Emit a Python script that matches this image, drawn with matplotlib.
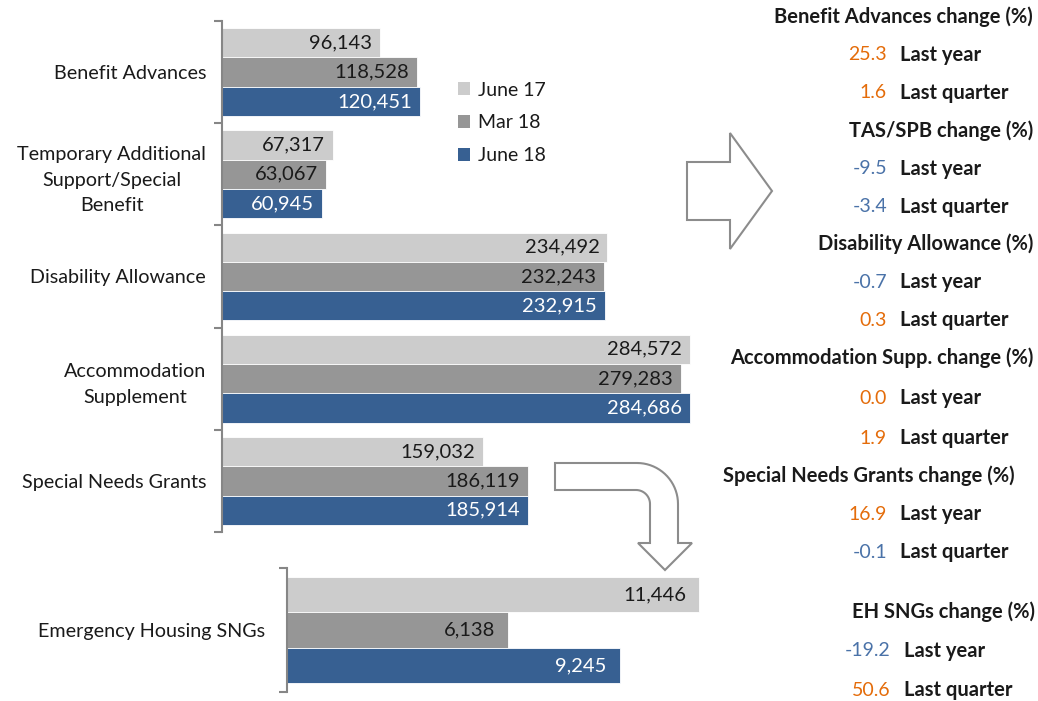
import numpy as np
import matplotlib
matplotlib.use("Agg")
import matplotlib.pyplot as plt
from matplotlib.patches import Patch

plt.rcParams['font.family'] = ['Lato', 'DejaVu Sans']

# ---------------- data ----------------
categories = ["Benefit Advances", "Temporary Additional\nSupport/Special\nBenefit",
              "Disability Allowance", "Accommodation\nSupplement", "Special Needs Grants"]
series_names = ["June 17", "Mar 18", "June 18"]
june17 = [96143, 67317, 234492, 284572, 159032]
mar18 = [118528, 63067, 232243, 279283, 186119]
june18 = [120451, 60945, 232915, 284686, 185914]

eh_category = ["Emergency Housing SNGs"]
eh_june17 = [11446]
eh_mar18 = [6138]
eh_june18 = [9245]

change_headers = ["Benefit Advances change (%)", "TAS/SPB change (%)", "Disability Allowance (%)",
                  "Accommodation Supp. change (%)", "Special Needs Grants change (%)",
                  "EH SNGs change (%)"]
change_last_year = [25.3, -9.5, -0.7, 0.0, 16.9, -19.2]
change_last_quarter = [1.6, -3.4, 0.3, 1.9, -0.1, 50.6]

# ---------------- style ----------------
colors = ["#CCCCCC", "#969696", "#376092"]
label_colors = ["#1a1a1a", "#1a1a1a", "white"]
orange = "#E46C0A"
blue_txt = "#4A72A8"
spine_col = "#868686"
W, H = 1038, 701
fs_data = 14.5
fs_cat = 14.2
fs_head = 14.5
fs_val = 14
bar_h = 0.287

fig = plt.figure(figsize=(W / 100, H / 100), dpi=100)


def px_axes(left, top, right, bottom):
    return fig.add_axes([left / W, 1 - bottom / H, (right - left) / W, (bottom - top) / H])


def style_axes(ax, n, labels, pad):
    for s in ["top", "right", "bottom"]:
        ax.spines[s].set_visible(False)
    ax.spines["left"].set_color(spine_col)
    ax.spines["left"].set_linewidth(1.5)
    ax.set_xticks([])
    ax.set_yticks(np.arange(n))
    ax.set_yticklabels(labels, fontsize=fs_cat, color="#1a1a1a", multialignment="center",
                       linespacing=1.6)
    ax.tick_params(axis="y", which="major", length=0, pad=pad)
    ax.set_yticks(np.arange(n + 1) - 0.5, minor=True)
    ax.tick_params(axis="y", which="minor", length=6, width=1.5, color=spine_col)
    ax.set_ylim(n - 0.5, -0.5)


def draw_group(ax, series, pad):
    n = len(series[0])
    y = np.arange(n)
    for k, vals in enumerate(series):
        yy = y + (k - 1) * bar_h
        ax.barh(yy, vals, height=bar_h, color=colors[k], edgecolor="white", linewidth=0.6,
                label=series_names[k])
        for yi, v in zip(yy, vals):
            ax.annotate(f"{v:,}", xy=(v, yi), xytext=(-pad, 0), textcoords="offset pixels",
                        ha="right", va="center", fontsize=fs_data, color=label_colors[k])


# top chart
ax1 = px_axes(222, 21, 222 + 300000 * 468 / 284686, 532)
draw_group(ax1, [june17, mar18, june18], 8)
ax1.set_xlim(0, 300000)
style_axes(ax1, len(categories), categories, 11.5)

# bottom chart
ax2 = px_axes(287, 568, 287 + 12000 * 412 / 11446, 692)
draw_group(ax2, [eh_june17, eh_mar18, eh_june18], 13)
ax2.set_xlim(0, 12000)
style_axes(ax2, 1, eh_category, 16)

# legend
handles = [Patch(facecolor=c, edgecolor="none", label=s) for c, s in zip(colors, series_names)]
leg = fig.legend(handles=handles, loc="upper left", bbox_to_anchor=(440 / W, 1 - 64 / H),
                 frameon=False, fontsize=14, handlelength=0.65, handleheight=0.65,
                 handletextpad=0.4, labelspacing=0.82)
for t in leg.get_texts():
    t.set_color("#1a1a1a")

# overlay for text panel and arrows
ov = fig.add_axes([0, 0, 1, 1], zorder=5)
ov.set_xlim(0, W)
ov.set_ylim(H, 0)
ov.axis("off")
ov.patch.set_alpha(0)

header_right = [1033, 1033, 1033, 1033, 1015, 1035]
header_y = [17, 131, 244, 358, 476, 612]
row_gap = [38, 38, 38, 40, 38, 39]
val_right = [887, 887, 887, 887, 887, 891]
for i, head in enumerate(change_headers):
    ov.text(header_right[i], header_y[i], head, ha="right", va="center", fontsize=fs_head,
            fontweight="bold", color="#1a1a1a")
    for j, (v, lab) in enumerate([(change_last_year[i], "Last year"),
                                  (change_last_quarter[i], "Last quarter")]):
        yy = header_y[i] + row_gap[i] * (j + 1)
        col = orange if v >= 0 else blue_txt
        ov.text(val_right[i], yy, f"{v:.1f}", ha="right", va="center", fontsize=fs_val, color=col)
        ov.text(val_right[i] + 13, yy, lab, ha="left", va="center", fontsize=fs_head,
                fontweight="bold", color="#1a1a1a")

# right block arrow
arrow_pts = [(687, 162), (730, 162), (730, 133), (772, 191), (730, 249), (730, 220), (687, 220)]
ov.add_patch(plt.Polygon(arrow_pts, closed=True, facecolor="white", edgecolor="#8C8C8C", lw=1.5))

# curved arrow
ang = np.linspace(-np.pi / 2, 0, 20)
outer = [(637 + 41 * np.cos(a), 504 + 41 * np.sin(a)) for a in ang]
inner = [(636 + 14 * np.cos(a), 504 + 14 * np.sin(a)) for a in ang[::-1]]
pts = [(555, 463)] + outer + [(678, 543), (692, 543), (665, 570), (638, 543), (650, 543)] + inner + [(555, 490)]
ov.add_patch(plt.Polygon(pts, closed=True, facecolor="white", edgecolor="#8C8C8C", lw=1.5))

fig.savefig("out.png", dpi=100, facecolor="white")
